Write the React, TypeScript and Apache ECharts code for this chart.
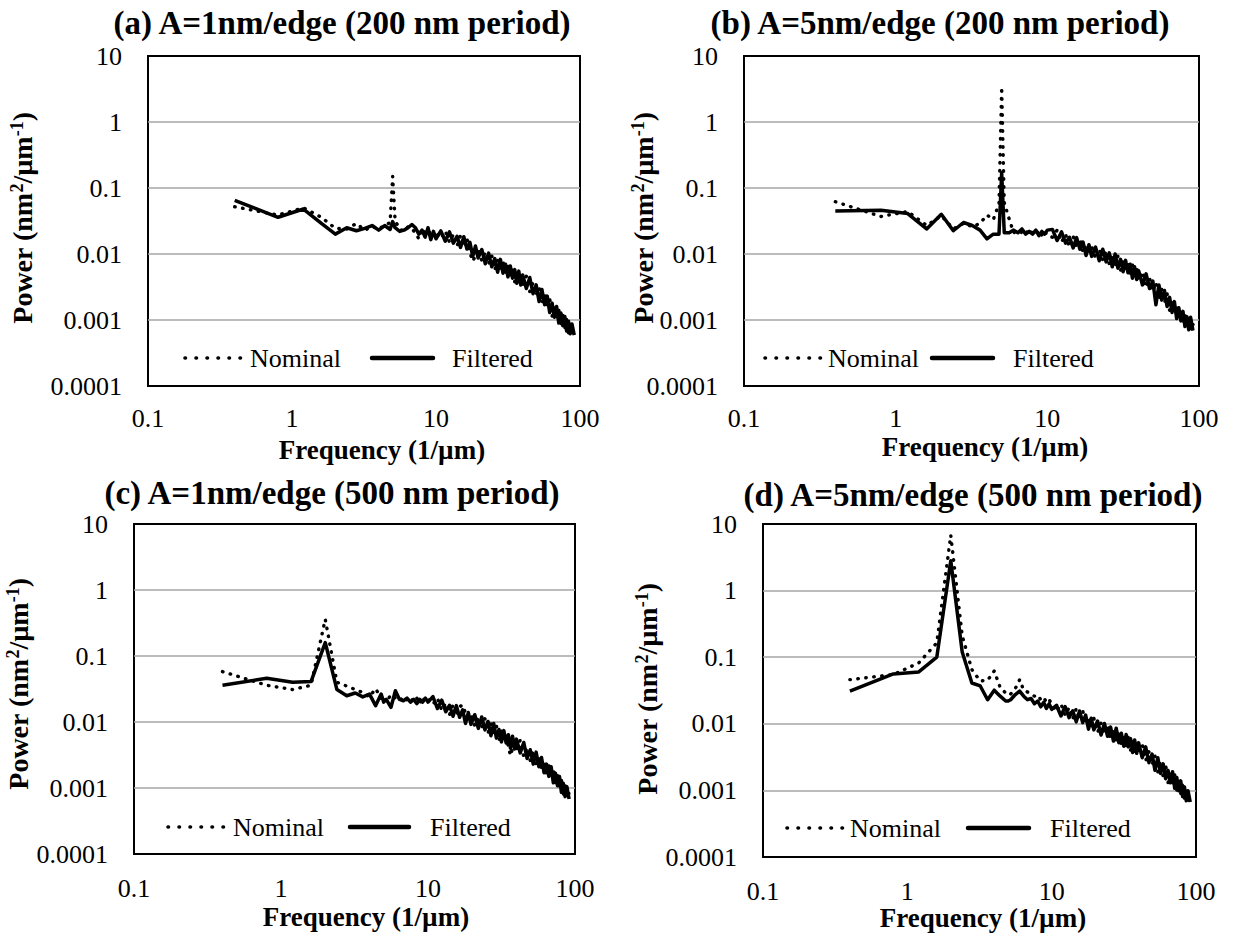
import React, { useEffect, useRef } from "react";
import * as echarts from "echarts";

// Spatial frequency samples (1/µm), shared by all four spectra
const FREQ = [
  0.4, 0.8, 1.2, 1.6, 2.0, 2.4, 2.8, 3.2, 3.6, 4.0, 4.4, 4.8, 5.0, 5.2, 5.6, 6.0, 6.4, 6.8, 7.2, 7.6, 8.0, 8.4, 8.8, 9.2, 9.6, 10.0,
  10.8, 11.6, 12.4, 13.2, 14.0, 14.8, 15.6, 16.4, 17.2, 18.0, 18.8, 19.6,
  20.8, 22.0, 23.2, 24.4, 25.6, 26.8, 28.0, 29.2, 30.4, 31.6, 32.8, 34.0, 35.2, 36.4, 37.6, 38.8, 40.0,
  42.4, 44.8, 47.2, 49.6, 52.0, 54.4, 56.8, 59.2, 61.6, 64.0, 66.4, 68.8, 71.2, 73.6, 76.0, 78.4, 80.8, 83.2, 85.6, 88.0, 91.2,
];

// (a) A=1nm/edge, 200 nm period
const A_NOMINAL = [
  0.052, 0.039, 0.05, 0.036, 0.0245, 0.024, 0.029, 0.023, 0.026, 0.024, 0.027, 0.03, 0.15, 0.032, 0.024, 0.022, 0.026, 0.024, 0.021, 0.017, 0.024, 0.021, 0.019, 0.023, 0.019, 0.021,
  0.0172, 0.0224, 0.0151, 0.0198, 0.0132, 0.019, 0.0129, 0.0173, 0.0104, 0.0078, 0.0094, 0.0124,
  0.0079, 0.0107, 0.0071, 0.0094, 0.0057, 0.008, 0.0055, 0.0078, 0.0047, 0.0067, 0.0046, 0.0061, 0.0038, 0.0058, 0.0036, 0.005, 0.0034,
  0.0046, 0.0027, 0.0037, 0.0024, 0.0031, 0.0018, 0.0024, 0.0015, 0.0021, 0.00115, 0.0016, 0.00105, 0.00143, 0.00084, 0.0012, 0.00074, 0.00106, 0.00064, 0.0009, 0.0006, 0.00073,
];
const A_FILTERED = [
  0.065, 0.036, 0.048, 0.029, 0.02, 0.025, 0.0225, 0.0245, 0.027, 0.023, 0.027, 0.0235, 0.031, 0.025, 0.022, 0.023, 0.025, 0.028, 0.025, 0.02, 0.023, 0.018, 0.025, 0.0165, 0.022, 0.017,
  0.0224, 0.0156, 0.0216, 0.0146, 0.0185, 0.0126, 0.0183, 0.0119, 0.015, 0.0092, 0.0132, 0.0087,
  0.0117, 0.0071, 0.0103, 0.0064, 0.0085, 0.0053, 0.0083, 0.0051, 0.007, 0.0045, 0.0066, 0.0043, 0.0058, 0.0036, 0.0055, 0.0034, 0.0048,
  0.003, 0.0044, 0.0025, 0.0034, 0.0019, 0.0029, 0.0017, 0.0023, 0.0013, 0.0018, 0.0011, 0.0016, 0.0009, 0.00128, 0.00082, 0.00113, 0.00068, 0.00096, 0.00062, 0.00087, 0.00059,
];

// (b) A=5nm/edge, 200 nm period
const B_NOMINAL = [
  0.062, 0.037, 0.044, 0.027, 0.038, 0.024, 0.029, 0.026, 0.029, 0.039, 0.033, 0.058, 3.4, 0.06, 0.034, 0.021, 0.023, 0.021, 0.023, 0.019, 0.022, 0.02, 0.023, 0.019, 0.022, 0.019,
  0.018, 0.023, 0.0151, 0.0198, 0.0128, 0.0186, 0.0125, 0.0171, 0.0105, 0.0137, 0.0098, 0.0132,
  0.0085, 0.0119, 0.0081, 0.0113, 0.007, 0.0097, 0.0066, 0.0093, 0.0056, 0.008, 0.0055, 0.0074, 0.0046, 0.0069, 0.0043, 0.006, 0.004,
  0.0054, 0.0031, 0.0043, 0.0027, 0.0037, 0.0021, 0.0029, 0.0018, 0.0025, 0.0014, 0.0019, 0.00128, 0.00167, 0.001, 0.0014, 0.00088, 0.00125, 0.00074, 0.00104, 0.0007, 0.00085,
];
const B_FILTERED = [
  0.045, 0.046, 0.041, 0.024, 0.04, 0.0225, 0.03, 0.027, 0.023, 0.017, 0.02, 0.02, 0.17, 0.021, 0.021, 0.023, 0.021, 0.024, 0.02, 0.022, 0.02, 0.023, 0.019, 0.022, 0.02, 0.023,
  0.0236, 0.016, 0.0216, 0.0146, 0.0179, 0.0124, 0.0177, 0.0118, 0.0151, 0.0095, 0.0138, 0.0092,
  0.0127, 0.0079, 0.0118, 0.0076, 0.0104, 0.0064, 0.01, 0.0061, 0.0083, 0.0054, 0.008, 0.0052, 0.007, 0.0043, 0.0064, 0.0041, 0.0056,
  0.0034, 0.005, 0.003, 0.0039, 0.0017, 0.0034, 0.002, 0.0028, 0.0016, 0.0022, 0.0013, 0.0019, 0.00105, 0.00153, 0.00097, 0.00135, 0.0008, 0.00112, 0.00071, 0.0011, 0.00069,
];

// (c) A=1nm/edge, 500 nm period
const C_NOMINAL = [
  0.058, 0.036, 0.031, 0.036, 0.36, 0.04, 0.035, 0.031, 0.028, 0.024, 0.032, 0.023, 0.025, 0.02, 0.026, 0.023, 0.024, 0.02, 0.022, 0.024, 0.02, 0.023, 0.019, 0.024, 0.02, 0.022,
  0.0185, 0.023, 0.015, 0.0193, 0.0128, 0.0182, 0.0125, 0.0171, 0.018, 0.0137, 0.0099, 0.0132,
  0.0087, 0.012, 0.0082, 0.0112, 0.0068, 0.0094, 0.0062, 0.0088, 0.0052, 0.0074, 0.0051, 0.0068, 0.0042, 0.0031, 0.004, 0.0056, 0.0039,
  0.0053, 0.003, 0.0041, 0.0026, 0.0037, 0.0022, 0.0031, 0.0019, 0.0026, 0.0015, 0.0022, 0.0014, 0.0019, 0.0011, 0.00156, 0.00097, 0.00135, 0.00078, 0.00108, 0.00072, 0.00084,
];
const C_FILTERED = [
  0.036, 0.046, 0.04, 0.041, 0.16, 0.031, 0.025, 0.0275, 0.024, 0.0265, 0.0177, 0.0265, 0.02, 0.022, 0.0167, 0.0297, 0.022, 0.021, 0.023, 0.02, 0.022, 0.019, 0.022, 0.02, 0.023, 0.02,
  0.0242, 0.016, 0.0214, 0.0143, 0.0179, 0.0122, 0.0177, 0.0118, 0.0153, 0.0095, 0.0139, 0.0092,
  0.0129, 0.008, 0.0119, 0.0076, 0.0102, 0.0062, 0.0095, 0.0057, 0.0077, 0.005, 0.0074, 0.0048, 0.0064, 0.004, 0.0061, 0.0039, 0.0055,
  0.0034, 0.0049, 0.0028, 0.0038, 0.0023, 0.0035, 0.0021, 0.0029, 0.0017, 0.0023, 0.0015, 0.0021, 0.0012, 0.00168, 0.00108, 0.00149, 0.00086, 0.00118, 0.00074, 0.00105, 0.00068,
];

// (d) A=5nm/edge, 500 nm period
const D_NOMINAL = [
  0.046, 0.055, 0.082, 0.164, 6.8, 0.21, 0.065, 0.044, 0.045, 0.062, 0.035, 0.029, 0.03, 0.028, 0.034, 0.046, 0.032, 0.03, 0.028, 0.026, 0.027, 0.023, 0.025, 0.021, 0.023, 0.02,
  0.0152, 0.0198, 0.0134, 0.0176, 0.0118, 0.0169, 0.0116, 0.0159, 0.0098, 0.0126, 0.009, 0.0121,
  0.0074, 0.0102, 0.007, 0.0095, 0.0059, 0.0083, 0.0056, 0.0079, 0.0049, 0.007, 0.0047, 0.0065, 0.004, 0.006, 0.0038, 0.0053, 0.0037,
  0.0049, 0.0028, 0.0038, 0.0024, 0.0033, 0.0019, 0.0027, 0.0016, 0.0024, 0.0013, 0.0019, 0.00126, 0.00171, 0.001, 0.00144, 0.0009, 0.00126, 0.00075, 0.00103, 0.00068, 0.00081,
];
const D_FILTERED = [
  0.031, 0.056, 0.06, 0.1, 2.8, 0.12, 0.041, 0.037, 0.023, 0.032, 0.026, 0.022, 0.022, 0.023, 0.0275, 0.031, 0.026, 0.023, 0.024, 0.02, 0.022, 0.018, 0.021, 0.017, 0.02, 0.0165,
  0.019, 0.0131, 0.0182, 0.0124, 0.0157, 0.0107, 0.0156, 0.0104, 0.0135, 0.0083, 0.0121, 0.0081,
  0.011, 0.0068, 0.0101, 0.0065, 0.0089, 0.0055, 0.0086, 0.0052, 0.0072, 0.0046, 0.0069, 0.0045, 0.006, 0.0037, 0.0057, 0.0036, 0.0052,
  0.0031, 0.0045, 0.0026, 0.0035, 0.002, 0.0031, 0.0018, 0.0025, 0.0015, 0.002, 0.0013, 0.0019, 0.00108, 0.00156, 0.00099, 0.00139, 0.00081, 0.00113, 0.0007, 0.00099, 0.00067,
];

const X_TICK_LABELS = ["0.1", "1", "10", "100"];
const Y_TICK_LABELS = ["0.0001", "0.001", "0.01", "0.1", "1", "10"];
const PANEL_TITLES = [
  "(a) A=1nm/edge (200 nm period)",
  "(b) A=5nm/edge (200 nm period)",
  "(c) A=1nm/edge (500 nm period)",
  "(d) A=5nm/edge (500 nm period)",
];
const X_AXIS_TITLE = "Frequency (1/µm)";
const Y_AXIS_TITLE = "Power (nm{sup|2}/µm{sup|-1})";
const SERIES_NAMES = ["Nominal", "Filtered"];

const SERIF = '"Liberation Serif", "Times New Roman", serif';

// Page layout of each panel (plot box, headings, legend row)
const LAYOUT = [
  { grid: { left: 148, top: 56, width: 432, height: 330 }, labelMargin: 19, title: [342, 23], xTitle: [382, 450], yTitle: [22, 218],
    legendY: 358, dotLine: [185, 242], nominalX: 250, solidLine: [372, 433], filteredX: 452 },
  { grid: { left: 744, top: 56, width: 455, height: 330 }, labelMargin: 19, title: [940, 23], xTitle: [985, 447], yTitle: [643, 218],
    legendY: 358, dotLine: [765, 822], nominalX: 828, solidLine: [932, 993], filteredX: 1013 },
  { grid: { left: 134, top: 524, width: 441, height: 330 }, labelMargin: 21, title: [332, 493], xTitle: [366, 917], yTitle: [18, 684],
    legendY: 827, dotLine: [168, 225], nominalX: 233, solidLine: [350, 409], filteredX: 430 },
  { grid: { left: 763, top: 524, width: 433, height: 333 }, labelMargin: 21, title: [973, 495], xTitle: [983, 918], yTitle: [647, 689],
    legendY: 828, dotLine: [787, 844], nominalX: 850, solidLine: [968, 1029], filteredX: 1050 },
];

const PANEL_DATA = [
  [A_NOMINAL, A_FILTERED],
  [B_NOMINAL, B_FILTERED],
  [C_NOMINAL, C_FILTERED],
  [D_NOMINAL, D_FILTERED],
];

const fmtX = (v: number) => X_TICK_LABELS[Math.round(Math.log10(v)) + 1] ?? "";
const fmtY = (v: number) => Y_TICK_LABELS[Math.round(Math.log10(v)) + 4] ?? "";

function text(x: number, y: number, str: string, font: string, align: string, extra: any = {}) {
  return {
    type: "text",
    x,
    y,
    silent: true,
    ...extra,
    style: {
      text: str,
      font,
      fill: "#000",
      align,
      textAlign: align,
      verticalAlign: "middle",
      textVerticalAlign: "middle",
      ...(extra.style || {}),
    },
  };
}

function buildOption() {
  const grid: any[] = [];
  const xAxis: any[] = [];
  const yAxis: any[] = [];
  const series: any[] = [];
  const graphic: any[] = [];

  LAYOUT.forEach((p, i) => {
    grid.push({ ...p.grid, show: true, borderColor: "#000", borderWidth: 2, backgroundColor: "transparent" });
    xAxis.push({
      type: "log",
      gridIndex: i,
      logBase: 10,
      min: 0.1,
      max: 100,
      splitNumber: 3,
      axisLine: { show: false },
      axisTick: { show: false },
      splitLine: { show: false },
      axisLabel: { margin: p.labelMargin, fontSize: 26, fontFamily: SERIF, color: "#000", formatter: fmtX },
    });
    yAxis.push({
      type: "log",
      gridIndex: i,
      logBase: 10,
      min: 0.0001,
      max: 10,
      splitNumber: 5,
      axisLine: { show: false },
      axisTick: { show: false },
      splitLine: { show: true, showMinLine: false, showMaxLine: false, lineStyle: { color: "#a6a6a6", width: 1.5 } },
      axisLabel: { margin: 26, fontSize: 26, fontFamily: SERIF, color: "#000", formatter: fmtY },
    });

    const [nominal, filtered] = PANEL_DATA[i];
    series.push({
      type: "line",
      name: SERIES_NAMES[0],
      xAxisIndex: i,
      yAxisIndex: i,
      symbol: "none",
      silent: true,
      data: FREQ.map((f, k) => [f, nominal[k]]),
      lineStyle: { color: "#000", width: 3.4, type: [0.5, 7.5], cap: "round", join: "round" },
      z: 3,
    });
    series.push({
      type: "line",
      name: SERIES_NAMES[1],
      xAxisIndex: i,
      yAxisIndex: i,
      symbol: "none",
      silent: true,
      data: FREQ.map((f, k) => [f, filtered[k]]),
      lineStyle: { color: "#000", width: 3.5, type: "solid", join: "round" },
      z: 2,
    });

    // panel heading
    graphic.push(text(p.title[0], p.title[1], PANEL_TITLES[i], `bold 33px ${SERIF}`, "center"));
    // axis titles
    graphic.push(text(p.xTitle[0], p.xTitle[1], X_AXIS_TITLE, `bold 27px ${SERIF}`, "center"));
    graphic.push(
      text(p.yTitle[0], p.yTitle[1], Y_AXIS_TITLE, `bold 28px ${SERIF}`, "center", {
        rotation: Math.PI / 2,
        style: {
          rich: {
            sup: { fontSize: 18, fontWeight: "bold", fontFamily: SERIF, fill: "#000", verticalAlign: "top", lineHeight: 28 },
          },
        },
      })
    );
    // legend row
    graphic.push({
      type: "line",
      silent: true,
      shape: { x1: p.dotLine[0], y1: p.legendY, x2: p.dotLine[1], y2: p.legendY },
      style: { stroke: "#000", lineWidth: 3.6, lineDash: [0.5, 10.5], lineCap: "round" },
    });
    graphic.push(text(p.nominalX, p.legendY, SERIES_NAMES[0], `26px ${SERIF}`, "left"));
    graphic.push({
      type: "line",
      silent: true,
      shape: { x1: p.solidLine[0], y1: p.legendY, x2: p.solidLine[1], y2: p.legendY },
      style: { stroke: "#000", lineWidth: 4.5, lineCap: "round" },
    });
    graphic.push(text(p.filteredX, p.legendY, SERIES_NAMES[1], `26px ${SERIF}`, "left"));
  });

  return {
    animation: false,
    backgroundColor: "#fff",
    textStyle: { fontFamily: SERIF },
    grid,
    xAxis,
    yAxis,
    series,
    graphic: { elements: graphic },
  };
}

export default function App() {
  const ref = useRef<HTMLDivElement>(null);
  useEffect(() => {
    if (!ref.current) return;
    const chart = echarts.init(ref.current, undefined, { renderer: "svg" });
    chart.setOption(buildOption() as any);
    return () => chart.dispose();
  }, []);
  return (
    <div
      ref={ref}
      style={{ position: "absolute", left: 0, top: 0, width: 1233, height: 935, background: "#fff" }}
    />
  );
}
